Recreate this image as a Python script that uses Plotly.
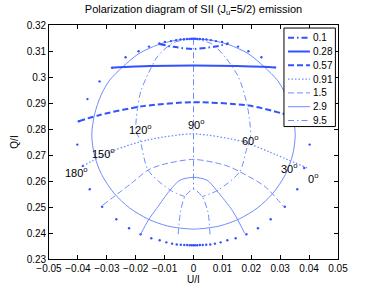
import plotly.graph_objects as go

FONT = "Liberation Sans, Arial, Helvetica, sans-serif"
THICK = "#3352ff"
THIN = "#6f8cff"
DASH = "6px,3px"
DASHDOT = "6px,3px,1.5px,3px"
DOT = "1.5px,2px"

# ---------------- data (U/I, Q/I) ----------------
hanle_labels = ["0.1", "0.28", "0.57", "0.91", "1.5", "2.9", "9.5"]

h01_u = [-0.0118, -0.0070, 0.0, 0.0070, 0.0118]
h01_q = [0.3127, 0.3116, 0.3108, 0.3116, 0.3127]

h028_u = [-0.0282, -0.0150, 0.0, 0.0150, 0.0281]
h028_q = [0.3036, 0.3042, 0.3044, 0.3042, 0.3037]

h057_u = [-0.0397, -0.0324, -0.0174, 0.0, 0.0191, 0.0306, 0.0397]
h057_q = [0.2830, 0.2854, 0.2888, 0.2903, 0.2890, 0.2860, 0.2832]

h091_u = [-0.0383, -0.0272, -0.0157, 0.0, 0.0168, 0.0260, 0.0393]
h091_q = [0.2658, 0.2719, 0.2758, 0.2781, 0.2752, 0.2713, 0.2650]

h15_u = [-0.0313, -0.0215, -0.0157, -0.0111, 0.0, 0.0111, 0.0156, 0.0248, 0.0312]
h15_q = [0.2508, 0.2591, 0.2642, 0.2662, 0.2683, 0.2660, 0.2638, 0.2578, 0.2501]

h29_u = [-0.0183, -0.0156, -0.0127, -0.0081, -0.0047, 0.0, 0.0047, 0.0079, 0.0137, 0.0177]
h29_q = [0.2395, 0.2450, 0.2495, 0.2565, 0.2603, 0.2614, 0.2603, 0.2565, 0.2482, 0.2399]

h95_u = [-0.0053, -0.0045, -0.0030, 0.0, 0.0030, 0.0050, 0.0057]
h95_q = [0.2395, 0.2480, 0.2540, 0.2568, 0.2540, 0.2480, 0.2393]

# constant-angle curves
a90_u = [0.0, 0.0]
a90_q = [0.3147, 0.2568]

a120_u = [0.0, -0.0071, -0.0123, -0.0157, -0.0182, -0.0195, -0.0199, -0.0185, -0.0157, -0.0081, -0.0030]
a120_q = [0.3147, 0.3131, 0.3081, 0.3012, 0.2946, 0.2869, 0.2792, 0.2758, 0.2642, 0.2565, 0.2540]

a60_u = [0.0, 0.0064, 0.0110, 0.0156, 0.0179, 0.0193, 0.0197, 0.0183, 0.0160, 0.0085, 0.0030]
a60_q = [0.3147, 0.3127, 0.3076, 0.2999, 0.2922, 0.2845, 0.2768, 0.2719, 0.2636, 0.2565, 0.2540]

a30_150_u = [0.0, -0.0062, -0.0123, -0.0189, -0.0244, -0.0292, -0.0320, -0.0342, -0.0352,
             -0.0343, -0.0318, -0.0275, -0.0222, -0.0158, -0.0090, 0.0,
             0.0090, 0.0158, 0.0222, 0.0275, 0.0318, 0.0343, 0.0352, 0.0342, 0.0320,
             0.0292, 0.0244, 0.0189, 0.0123, 0.0062, 0.0]
a30_150_q = [0.3147, 0.3141, 0.3124, 0.3090, 0.3040, 0.2985, 0.2930, 0.2858, 0.2778,
             0.2700, 0.2625, 0.2553, 0.2497, 0.2454, 0.2427, 0.2415,
             0.2427, 0.2454, 0.2497, 0.2553, 0.2625, 0.2700, 0.2778, 0.2858, 0.2930,
             0.2985, 0.3040, 0.3090, 0.3124, 0.3141, 0.3147]

a0_180_u = [0.0, -0.0006, -0.0013, -0.0022, -0.0033, -0.0045, -0.0060, -0.0078, -0.0099, -0.0118,
            -0.0154, -0.0190, -0.0235, -0.0282, -0.0325, -0.0367, -0.0397, -0.0402, -0.0383,
            -0.0359, -0.0316, -0.0267, -0.0223, -0.0183, -0.0146, -0.0117, -0.0094, -0.0074,
            -0.0058, -0.0044, -0.0032, -0.0022, -0.0013, -0.0006, 0.0,
            0.0006, 0.0013, 0.0022, 0.0033, 0.0045, 0.0060, 0.0078, 0.0099, 0.0118,
            0.0154, 0.0190, 0.0235, 0.0282, 0.0325, 0.0367, 0.0397, 0.0402, 0.0383,
            0.0359, 0.0316, 0.0267, 0.0223, 0.0183, 0.0146, 0.0117, 0.0094, 0.0074,
            0.0058, 0.0044, 0.0032, 0.0022, 0.0013, 0.0006]
a0_180_q = [0.3147, 0.3147, 0.3146, 0.3146, 0.3145, 0.3144, 0.3142, 0.3138, 0.3135, 0.3129,
            0.3117, 0.3099, 0.3076, 0.3036, 0.2983, 0.2915, 0.2830, 0.2740, 0.2658,
            0.2568, 0.2501, 0.2453, 0.2418, 0.2395, 0.2380, 0.2372, 0.2364, 0.2359,
            0.2356, 0.2355, 0.2354, 0.2354, 0.2353, 0.2353, 0.2353,
            0.3147, 0.3146, 0.3146, 0.3145, 0.3144, 0.3142, 0.3138, 0.3135, 0.3129,
            0.3117, 0.3099, 0.3076, 0.3037, 0.2983, 0.2915, 0.2832, 0.2740, 0.2650,
            0.2568, 0.2501, 0.2453, 0.2418, 0.2395, 0.2380, 0.2372, 0.2364, 0.2359,
            0.2356, 0.2355, 0.2354, 0.2354, 0.2353, 0.2353]

angle_labels = ["180", "150", "120", "90", "60", "30", "0"]
angle_label_u = [-0.0405, -0.0312, -0.0183, 0.0009, 0.0197, 0.0332, 0.0413]
angle_label_q = [0.2633, 0.2706, 0.2800, 0.2819, 0.2758, 0.2650, 0.2613]

x_ticks = [-0.05, -0.04, -0.03, -0.02, -0.01, 0.0, 0.01, 0.02, 0.03, 0.04, 0.05]
x_ticktext = ["\u22120.05", "\u22120.04", "\u22120.03", "\u22120.02", "\u22120.01", "0",
              "0.01", "0.02", "0.03", "0.04", "0.05"]
y_ticks = [0.23, 0.24, 0.25, 0.26, 0.27, 0.28, 0.29, 0.30, 0.31, 0.32]
y_ticktext = ["0.23", "0.24", "0.25", "0.26", "0.27", "0.28", "0.29", "0.3", "0.31", "0.32"]

# ---------------- figure ----------------
fig = go.Figure()


def add_line(u, q, name, color, width, dash):
    fig.add_trace(go.Scatter(
        x=u, y=q, mode="lines", name=name, showlegend=False, hoverinfo="skip",
        line=dict(color=color, width=width, dash=dash, shape="spline", smoothing=0.8)))


# constant-angle curves
add_line(a30_150_u, a30_150_q, "30/150 deg", THIN, 1, "solid")
add_line(a60_u, a60_q, "60 deg", THIN, 1, DASHDOT)
add_line(a120_u, a120_q, "120 deg", THIN, 1, DASHDOT)
add_line(a90_u, a90_q, "90 deg", THIN, 1, DASHDOT)
fig.add_trace(go.Scatter(x=a0_180_u, y=a0_180_q, mode="markers", name="0/180 deg",
                         showlegend=False, hoverinfo="skip",
                         marker=dict(color=THICK, size=2.4, line=dict(width=0))))

# Hanle-parameter curves
hanle_series = [
    (h01_u, h01_q, THICK, 2, DASHDOT),
    (h028_u, h028_q, THICK, 2, "solid"),
    (h057_u, h057_q, THICK, 2, DASH),
    (h091_u, h091_q, THIN, 1.3, DOT),
    (h15_u, h15_q, THIN, 1, DASH),
    (h29_u, h29_q, THIN, 1, "solid"),
    (h95_u, h95_q, THIN, 1, DASHDOT),
]
for lab, (u, q, c, w, d) in zip(hanle_labels, hanle_series):
    add_line(u, q, lab, c, w, d)

annotations = []
for lab, u, q in zip(angle_labels, angle_label_u, angle_label_q):
    annotations.append(dict(x=u, y=q, xref="x", yref="y", text=lab + "<sup>o</sup>",
                            showarrow=False, xanchor="center", yanchor="middle",
                            font=dict(family=FONT, size=11, color="black")))

# custom legend (MATLAB style)
shapes = [dict(type="rect", xref="paper", yref="paper", x0=0.813, x1=0.991, y0=0.566, y1=0.987,
               fillcolor="white", line=dict(color="black", width=1), layer="above")]
for i, (lab, (u, q, c, w, d)) in enumerate(zip(hanle_labels, hanle_series)):
    yy = (259 - 37.7 - 13.8 * i) / 234
    shapes.append(dict(type="line", xref="paper", yref="paper", x0=0.827, x1=0.903, y0=yy, y1=yy,
                       line=dict(color=c, width=w, dash=d), layer="above"))
    annotations.append(dict(x=0.906, y=yy, xref="paper", yref="paper", text=lab, showarrow=False,
                            xanchor="left", yanchor="middle",
                            font=dict(family=FONT, size=10, color="black")))

axis_common = dict(showgrid=False, zeroline=False, ticks="inside", ticklen=4, tickwidth=0.6,
                   tickcolor="black", showline=True, linecolor="black", linewidth=0.8,
                   mirror="ticks", automargin=False,
                   tickfont=dict(family=FONT, size=10, color="black"))

fig.update_layout(
    width=374, height=291,
    margin=dict(l=49, r=36, t=25, b=32),
    paper_bgcolor="white", plot_bgcolor="white",
    font=dict(family=FONT, size=10, color="black"),
    title=dict(text="Polarization diagram of SII (J<sub>u</sub>=5/2) emission",
               x=0.5, xref="paper", xanchor="center", y=1 - 9 / 291, yref="container",
               yanchor="middle", font=dict(family=FONT, size=11, color="black")),
    xaxis=dict(range=[-0.05, 0.05], tickvals=x_ticks, ticktext=x_ticktext, tickangle=0,
               title=dict(text="U/I", standoff=3, font=dict(family=FONT, size=10)), **axis_common),
    yaxis=dict(range=[0.23, 0.32], tickvals=y_ticks, ticktext=y_ticktext,
               title=dict(text="Q/I", standoff=6, font=dict(family=FONT, size=10)), **axis_common),
    shapes=shapes,
    annotations=annotations,
    showlegend=False,
)

# remove the default 8 px page margin so the figure sits at the window's top-left corner
fig.write_html("out.html", config={"displayModeBar": False},
               post_script="document.body.style.margin='0';")
